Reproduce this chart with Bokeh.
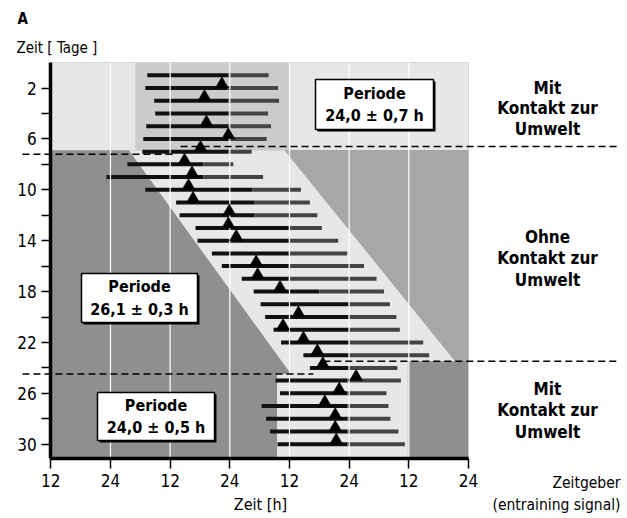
from bokeh.plotting import figure
from bokeh.models import Range1d, LinearAxis, FixedTicker, Label
from bokeh.embed import file_html
from bokeh.resources import INLINE

# ---------------- data ----------------
days = list(range(1, 31))
activity_start = [31.4, 31.0, 32.8, 33.0, 31.2, 30.6, 30.4, 27.4, 23.2, 31.0,
                  37.2, 37.9, 41.1, 41.5, 44.4, 46.4, 50.4, 52.8, 54.2, 55.1,
                  56.8, 58.3, 62.8, 64.1, 57.2, 58.1, 54.4, 55.3, 56.1, 57.6]
activity_split = [47.7, 47.5, 47.7, 47.7, 47.7, 47.7, 47.7, 42.7, 42.7, 52.5,
                  53.0, 53.0, 59.7, 59.7, 59.7, 59.7, 59.7, 66.0, 71.8, 71.8,
                  71.8, 71.8, 71.8, 71.8, 71.6, 71.6, 71.6, 71.6, 71.6, 71.6]
activity_end = [55.8, 57.7, 57.9, 55.7, 56.3, 55.4, 52.4, 48.7, 54.7, 62.3,
                64.1, 65.6, 66.5, 69.8, 71.6, 75.0, 77.5, 79.0, 80.2, 81.5,
                82.2, 86.9, 88.1, 81.7, 82.4, 79.5, 79.9, 80.3, 81.9, 83.2]
marker_days = [2, 3, 5, 6, 7, 8, 9, 10, 11, 12, 13, 14, 16, 17, 18,
               20, 21, 22, 23, 24, 25, 26, 27, 28, 29, 30]
marker_hours = [46.4, 42.9, 43.3, 47.7, 42.1, 38.9, 40.4, 39.7, 40.6, 47.9,
                47.7, 49.3, 53.3, 53.6, 58.1, 61.8, 58.7, 62.8, 65.6, 66.7,
                73.4, 70.0, 67.1, 69.2, 69.2, 69.4]

hour_ticks = [12, 24, 36, 48, 60, 72, 84, 96]
hour_tick_labels = ["12", "24", "12", "24", "12", "24", "12", "24"]
day_ticks = list(range(2, 31, 2))
day_tick_labels = ["2", "", "6", "", "10", "", "14", "", "18", "", "22", "", "26", "", "30"]

# Zeitgeber regimes (shading), hours / days
top_phase_end = 6.9
top_column = [29.0, 60.0]
right_region_h = [59.0, 96.0, 96.0, 93.3]
right_region_d = [6.9, 6.9, 23.47, 23.47]
band_h = [27.7, 59.0, 93.3, 83.8, 83.8, 57.5, 57.5, 60.3]
band_d = [6.9, 6.9, 23.47, 23.47, 31.13, 31.13, 24.48, 24.48]
border_x0 = [6.3, 38.1, 6.3, 66.8]
border_x1 = [37.1, 126.3, 64.8, 126.3]
border_d = [7.2, 6.6, 24.48, 23.47]

period_texts = ["24,0 \u00b1 0,7 h", "26,1 \u00b1 0,3 h", "24,0 \u00b1 0,5 h"]
phase_texts = [["Mit", "Kontakt zur", "Umwelt"],
               ["Ohne", "Kontakt zur", "Umwelt"],
               ["Mit", "Kontakt zur", "Umwelt"]]

# ---------------- layout ----------------
X0, X1 = 12, 96
Y0, Y1 = 0, 31.13
PX_H, PX_D = 4.9726, 12.72
W, H = 627, 518
LEFT_PX, TOP_PX = 50.3, 62.1
x_start = X0 - LEFT_PX / PX_H
y_top = Y0 - TOP_PX / PX_D

FONT = "DejaVu Sans Condensed, Roboto, sans-serif"
LIGHT = "#e7e7e7"
MEDIUM = "#cbcbcb"
MIDDARK = "#a7a7a7"
DARK = "#8f8f8f"


def hx(px):
    return X0 + (px - LEFT_PX) / PX_H


def dy(py):
    return Y0 + (py - TOP_PX) / PX_D


p = figure(width=W, height=H,
           x_range=Range1d(x_start, x_start + W / PX_H),
           y_range=Range1d(y_top + H / PX_D, y_top),
           x_axis_type=None, y_axis_type=None,
           toolbar_location=None, output_backend="svg", min_border=0)
p.outline_line_color = None
p.background_fill_color = "white"
p.border_fill_color = "white"

# background shading
p.quad(left=X0, right=X1, top=Y0, bottom=Y1, fill_color=DARK, line_color=None)
p.quad(left=X0, right=X1, top=Y0, bottom=top_phase_end, fill_color=LIGHT, line_color=None)
p.quad(left=top_column[0], right=top_column[1], top=Y0, bottom=top_phase_end,
       fill_color=MEDIUM, line_color=None)
p.patch(right_region_h, right_region_d, fill_color=MIDDARK, line_color=None)
p.patch(band_h, band_d, fill_color=LIGHT, line_color=None)

# activity bars
p.segment(x0=activity_start, y0=days, x1=activity_split, y1=days,
          line_color="#111111", line_width=4, line_cap="butt")
p.segment(x0=activity_split, y0=days, x1=activity_end, y1=days,
          line_color="#444444", line_width=4, line_cap="butt")

# white grid lines
grid_x = hour_ticks[1:-1]
p.segment(x0=grid_x, y0=[Y0] * len(grid_x), x1=grid_x, y1=[Y1] * len(grid_x),
          line_color="white", line_width=1.2)

# regime borders
p.segment(x0=border_x0, y0=border_d, x1=border_x1, y1=border_d,
          line_color="black", line_width=1.5, line_dash="7 4")

# markers
p.scatter(x=marker_hours, y=[d - 0.3 for d in marker_days], marker="triangle",
          size=13, fill_color="black", line_color="black", line_width=0.5)

# period boxes
box_cx = [hx(374), hx(139), hx(155.5)]
box_cy = [dy(104), dy(297.5), dy(416)]
box_w = [118, 116, 117]
box_h = [50, 49, 48]
p.rect(x=[c + 0.4 for c in box_cx], y=[c + 0.16 for c in box_cy], width=box_w, height=box_h,
       width_units="screen", height_units="screen", fill_color="black", line_color=None)
p.rect(x=box_cx, y=box_cy, width=box_w, height=box_h,
       width_units="screen", height_units="screen", fill_color="white",
       line_color="black", line_width=1.5)


def lab(text, x, y, size, bold=False, align="center"):
    p.add_layout(Label(x=x, y=y, text=text, text_font=FONT, text_font_size=f"{size}px",
                       text_font_style="bold" if bold else "normal",
                       text_align=align, text_baseline="middle", text_color="black"))


for cx, cy, t in zip(box_cx, box_cy, period_texts):
    lab("Periode", cx, cy - 11.3 / PX_D, 16, bold=True)
    lab(t, cx, cy + 11.3 / PX_D, 16, bold=True)

phase_rows = [[87, 107.5, 128], [236, 257, 279], [388, 409.5, 431]]
for lines, rows in zip(phase_texts, phase_rows):
    for t, r in zip(lines, rows):
        lab(t, hx(547), dy(r), 17, bold=True)

lab("A", hx(17), dy(18), 15, bold=True, align="left")
lab("Zeit [ Tage ]", hx(16), dy(47), 15, align="left")
lab("Zeit [h]", hx(260), dy(504), 16)
lab("Zeitgeber", hx(620), dy(482), 15.5, align="right")
lab("(entraining signal)", hx(620), dy(504), 15.5, align="right")

# axes
yax = LinearAxis(fixed_location=X0, bounds=(Y0, Y1),
                 ticker=FixedTicker(ticks=day_ticks),
                 major_label_overrides={t: l for t, l in zip(day_ticks, day_tick_labels)})
xax = LinearAxis(fixed_location=Y1, bounds=(X0, X1),
                 ticker=FixedTicker(ticks=hour_ticks),
                 major_label_overrides={t: l for t, l in zip(hour_ticks, hour_tick_labels)})
for ax, out in ((yax, 9), (xax, 10)):
    ax.axis_line_width = 3.5
    ax.axis_line_color = "black"
    ax.major_tick_out = out
    ax.major_tick_in = 0
    ax.minor_tick_out = 0
    ax.minor_tick_in = 0
    ax.major_tick_line_width = 1.5
    ax.major_label_text_font = FONT
    ax.major_label_text_font_size = "17px"
    ax.major_label_text_color = "black"
    ax.major_label_standoff = 5
p.add_layout(yax, "left")
p.add_layout(xax, "below")

open("out.html", "w").write(file_html(p, INLINE))
